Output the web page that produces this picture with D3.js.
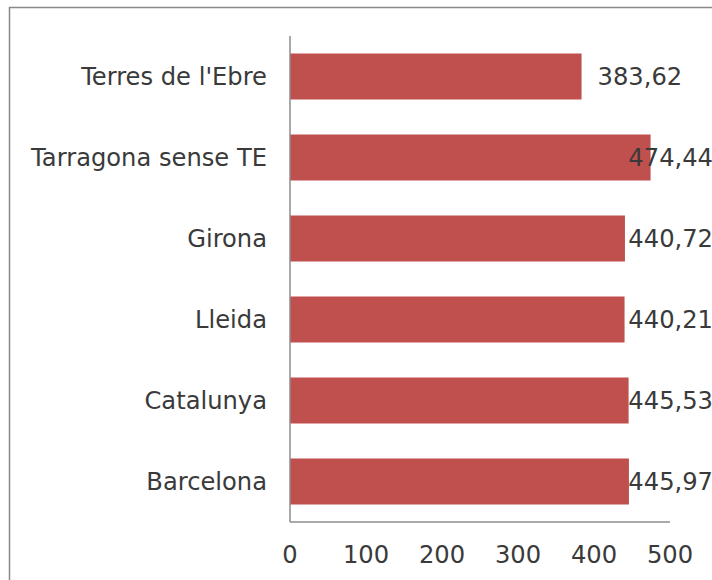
<!DOCTYPE html>
<html><head><meta charset="utf-8">
<script src="https://cdn.jsdelivr.net/npm/d3@7"></script>
<style>body{margin:0;background:#fff}svg{display:block}text{font-family:"DejaVu Sans",Verdana,sans-serif;fill:#3a3a3a}</style>
</head><body><svg id="c" width="712" height="580"></svg>
<script>
const categories = ["Terres de l'Ebre","Tarragona sense TE","Girona","Lleida","Catalunya","Barcelona"];
const values = [383.62,474.44,440.72,440.21,445.53,445.97];
const valueLabels = ["383,62","474,44","440,72","440,21","445,53","445,97"];
const xTicks = [0,100,200,300,400,500];

const W = 712, H = 580, FS = 24.2;
const svg = d3.select("#c");
svg.append("rect").attr("x",9.5).attr("y",7.5).attr("width",W+10).attr("height",H+10)
  .attr("fill","none").attr("stroke","#898989").attr("stroke-width",1.5);

const x = d3.scaleLinear().domain([0,500]).range([290,670]);
const y = d3.scaleBand().domain(categories).range([36,522]).paddingInner(0.432).paddingOuter(0.216);

svg.selectAll("rect.bar").data(values).join("rect").attr("class","bar")
  .attr("x",x(0)).attr("y",(d,i)=>y(categories[i])).attr("height",y.bandwidth())
  .attr("width",d=>x(d)-x(0)).attr("fill","#C0504D");

// axes lines
svg.append("line").attr("x1",x(0)).attr("x2",x(0)).attr("y1",36).attr("y2",522).attr("stroke","#8c8c8c").attr("stroke-width",1.5);
svg.append("line").attr("x1",x(0)).attr("x2",x(500)).attr("y1",522).attr("y2",522).attr("stroke","#8c8c8c").attr("stroke-width",1.5);

// category labels
svg.selectAll("text.cat").data(categories).join("text").attr("class","cat")
  .attr("x",267).attr("y",d=>y(d)+y.bandwidth()/2).attr("dy","0.36em")
  .attr("text-anchor","end").attr("font-size",FS).text(d=>d);

// tick labels
svg.selectAll("text.tick").data(xTicks).join("text").attr("class","tick")
  .attr("x",d=>x(d)).attr("y",563).attr("text-anchor","middle").attr("font-size",FS).text(d=>d);

// value labels
svg.selectAll("text.val").data(values).join("text").attr("class","val")
  .attr("y",(d,i)=>y(categories[i])+y.bandwidth()/2).attr("dy","0.36em")
  .attr("font-size",FS).text((d,i)=>valueLabels[i])
  .attr("x",function(d){const w=this.getComputedTextLength();return Math.min(x(d)+16, 713-w);});
</script></body></html>
